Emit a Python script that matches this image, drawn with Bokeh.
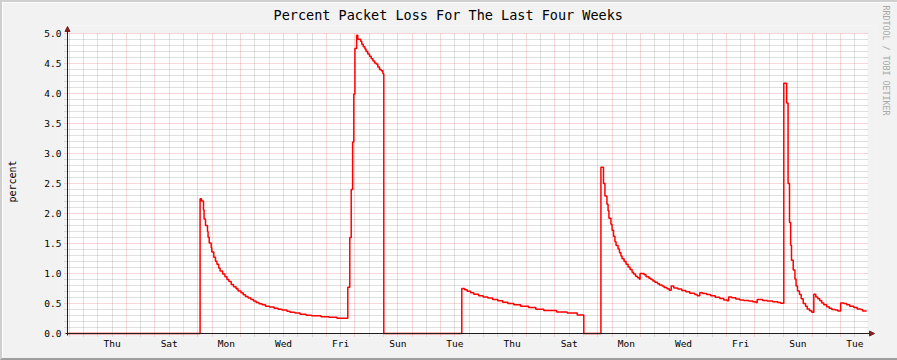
import numpy as np
from bokeh.plotting import figure
from bokeh.models import Range1d, FixedTicker, Arrow, NormalHead, NumeralTickFormatter, Title
from bokeh.embed import file_html
from bokeh.resources import INLINE

TITLE = "Percent Packet Loss For The Last Four Weeks"
Y_LABEL = "percent"
WATERMARK = "RRDTOOL / TOBI OETIKER"
DAY_LABELS = ["Thu", "Sat", "Mon", "Wed", "Fri", "Sun", "Tue",
              "Thu", "Sat", "Mon", "Wed", "Fri", "Sun", "Tue"]
WINDOW_DAYS = 28.0
FIRST_MIDNIGHT = 1.06   # days from window start to first Thursday 00:00

# time (days since window start) and packet loss (%) -- step series
T = [0.00, 4.64, 4.69, 4.76, 4.78, 4.83, 4.90, 4.92, 4.96, 5.03, 5.05, 5.12, 5.18, 5.23,
     5.29, 5.34, 5.43, 5.51, 5.58, 5.65, 5.73, 5.81, 5.90, 5.97, 6.07, 6.15, 6.23, 6.32,
     6.42, 6.51, 6.60, 6.70, 6.81, 6.93, 7.07, 7.23, 7.37, 7.51, 7.68, 7.79, 7.96, 8.14,
     8.35, 8.54, 8.87, 9.15, 9.43,
     9.81, 9.88, 9.93, 9.98, 10.02, 10.06, 10.12, 10.16, 10.26, 10.30, 10.35, 10.41, 10.45,
     10.51, 10.57, 10.63, 10.69, 10.75, 10.80, 10.86, 10.92, 10.98, 11.04, 11.07,
     13.80, 13.90, 13.99, 14.11, 14.22, 14.39, 14.55, 14.71, 14.88, 15.06, 15.23, 15.41,
     15.62, 15.86, 16.14, 16.39, 16.67, 17.12, 17.49, 17.84, 18.07,
     18.67, 18.76, 18.81, 18.88, 18.92, 18.95, 19.02, 19.06, 19.11, 19.16, 19.20, 19.27,
     19.32, 19.37, 19.41, 19.48, 19.55, 19.62, 19.69, 19.76, 19.81, 19.88, 19.95, 20.02,
     20.04, 20.18, 20.25, 20.35, 20.42, 20.49, 20.56, 20.65, 20.72, 20.81, 20.88, 20.98, 21.06,
     21.13, 21.22, 21.36, 21.50, 21.64, 21.78, 21.95, 22.04,
     22.13, 22.23, 22.37, 22.51, 22.67, 22.83, 22.97, 23.09,
     23.14, 23.25, 23.39, 23.53, 23.67, 23.84, 23.98, 24.09,
     24.14, 24.33, 24.49, 24.68, 24.86, 24.96,
     25.07, 25.17, 25.22, 25.27, 25.31, 25.34, 25.40, 25.46, 25.50, 25.55, 25.62, 25.68,
     25.75, 25.83, 25.89, 25.97, 26.05,
     26.12, 26.19, 26.26, 26.33, 26.40, 26.47, 26.57, 26.66, 26.75, 26.87, 26.96,
     27.06, 27.17, 27.27, 27.38, 27.52, 27.64, 27.76, 27.83, 27.97]
LOSS = [0.0, 2.245, 2.21, 2.06, 1.91, 1.80, 1.70, 1.605, 1.51, 1.43, 1.36, 1.27, 1.205, 1.155,
        1.09, 1.04, 0.99, 0.945, 0.90, 0.865, 0.815, 0.78, 0.745, 0.71, 0.68, 0.645, 0.615, 0.59,
        0.565, 0.54, 0.515, 0.495, 0.48, 0.455, 0.44, 0.42, 0.405, 0.39, 0.37, 0.355, 0.34, 0.32,
        0.305, 0.295, 0.28, 0.27, 0.255,
        0.77, 1.60, 2.40, 3.19, 3.99, 4.75, 4.97, 4.905, 4.87, 4.82, 4.78, 4.74, 4.70,
        4.66, 4.62, 4.58, 4.54, 4.51, 4.49, 4.44, 4.40, 4.38, 4.33, 0.0,
        0.75, 0.73, 0.705, 0.68, 0.655, 0.63, 0.61, 0.59, 0.565, 0.545, 0.52, 0.50,
        0.48, 0.455, 0.435, 0.405, 0.385, 0.36, 0.34, 0.31, 0.0,
        2.77, 2.50, 2.29, 2.155, 2.045, 1.92, 1.82, 1.72, 1.62, 1.53, 1.465, 1.41,
        1.345, 1.29, 1.245, 1.20, 1.155, 1.11, 1.065, 1.02, 0.99, 0.955, 0.93, 0.905,
        1.00, 0.98, 0.945, 0.92, 0.90, 0.875, 0.855, 0.83, 0.81, 0.79, 0.765, 0.745, 0.72,
        0.79, 0.76, 0.74, 0.715, 0.695, 0.67, 0.65, 0.63,
        0.68, 0.665, 0.65, 0.63, 0.605, 0.585, 0.56, 0.545,
        0.61, 0.595, 0.575, 0.56, 0.55, 0.54, 0.53, 0.515,
        0.565, 0.55, 0.54, 0.53, 0.515, 0.505,
        4.17, 3.84, 2.50, 1.85, 1.47, 1.22, 1.06, 0.91, 0.79, 0.71, 0.65, 0.58,
        0.50, 0.455, 0.41, 0.38, 0.355,
        0.655, 0.61, 0.58, 0.545, 0.51, 0.48, 0.445, 0.42, 0.40, 0.39, 0.375,
        0.51, 0.50, 0.48, 0.455, 0.435, 0.41, 0.40, 0.375, 0.375]

Y_MAX = 5.0

# RRDtool default colours
CANVAS = "#FFFFFF"
BACK = "#F2F2F2"
SHADE_A = "#CFCFCF"
SHADE_B = "#9E9E9E"
GRID = "#8F8F8F"
MGRID = "#DE4F4F"
ARROW = "#801F1F"
AXIS = "#1F1F1F"
LINE = "#FF0000"
FONT = "DejaVu Sans Mono"

# canvas is 800 x 300 px; the frame gets a small margin so the arrows fit
CW, CH = 800, 300
PX_X = WINDOW_DAYS / CW
PX_Y = Y_MAX / CH
PAD_L, PAD_B, PAD_R, PAD_T = 4, 4, 8, 8
EDGE = 2   # width of the bevel border drawn with CSS

x = np.array(T) - FIRST_MIDNIGHT
x0 = -FIRST_MIDNIGHT
x1 = WINDOW_DAYS - FIRST_MIDNIGHT

p = figure(frame_width=CW + PAD_L + PAD_R, frame_height=CH + PAD_B + PAD_T,
           output_backend="svg", toolbar_location=None,
           x_range=Range1d(x0 - PAD_L * PX_X, x1 + PAD_R * PX_X),
           y_range=Range1d(-PAD_B * PX_Y, Y_MAX + PAD_T * PX_Y), title=None,
           min_border_left=63 - EDGE, min_border_right=22 - EDGE,
           min_border_top=25 - EDGE, min_border_bottom=23 - EDGE)
p.background_fill_color = BACK
p.border_fill_color = BACK
p.outline_line_color = None
p.styles = {"border-top": f"{EDGE}px solid {SHADE_A}",
            "border-left": f"{EDGE}px solid {SHADE_A}",
            "border-bottom": f"{EDGE}px solid {SHADE_B}",
            "border-right": f"{EDGE}px solid {SHADE_B}"}

# white canvas
p.quad(left=[x0], right=[x1], bottom=[0], top=[Y_MAX], fill_color=CANVAS,
       line_color=None, level="image")

# ticks / grid
label_pos = [0.5 + 2 * k for k in range(len(DAY_LABELS))]
midnights = [float(d) for d in range(-1, 27)]
noons = [d + 0.5 for d in range(-1, 27) if d + 0.5 <= x1]
y_major = [k * 0.5 for k in range(11)]
y_minor = [k / 10 for k in range(51) if k % 5 != 0]

p.xaxis.ticker = FixedTicker(ticks=label_pos, minor_ticks=[])
p.xaxis.major_label_overrides = {pos: lab for pos, lab in zip(label_pos, DAY_LABELS)}
p.yaxis.ticker = FixedTicker(ticks=y_major, minor_ticks=[])
p.yaxis.formatter = NumeralTickFormatter(format="0.0")

for ax in (p.xaxis[0], p.yaxis[0]):
    ax.axis_line_color = None
    ax.major_tick_line_color = None
    ax.minor_tick_line_color = None
    ax.major_tick_in = 0
    ax.major_tick_out = 0
    ax.minor_tick_in = 0
    ax.minor_tick_out = 0
    ax.major_label_text_font = FONT
    ax.major_label_text_font_size = "9.5px"
    ax.major_label_text_color = "#000000"
p.xaxis.major_label_standoff = 0
p.yaxis.major_label_standoff = 2
p.yaxis.axis_label = Y_LABEL
p.yaxis.axis_label_text_font = FONT
p.yaxis.axis_label_text_font_size = "10px"
p.yaxis.axis_label_text_font_style = "normal"
p.yaxis.axis_label_text_color = "#000000"
p.yaxis.axis_label_standoff = 23

p.xgrid.ticker = FixedTicker(ticks=midnights, minor_ticks=noons)
p.ygrid.ticker = FixedTicker(ticks=y_major, minor_ticks=y_minor)
p.xgrid.cross_bounds = (-3 * PX_Y, Y_MAX)
p.ygrid.cross_bounds = (x0 - 3 * PX_X, x1)
for g in (p.xgrid[0], p.ygrid[0]):
    g.grid_line_color = MGRID
    g.grid_line_alpha = 0.45
    g.grid_line_dash = "1 1"
    g.grid_line_width = 1
    g.minor_grid_line_color = GRID
    g.minor_grid_line_alpha = 0.55
    g.minor_grid_line_dash = "1 1"
    g.minor_grid_line_width = 1

p.step(x, LOSS, mode="after", line_color=LINE, line_width=1.5)

# axis lines with arrow heads
p.add_layout(Arrow(end=NormalHead(size=5, fill_color=ARROW, line_color=ARROW),
                   x_start=x0 - 2 * PX_X, y_start=0, x_end=x1 + 7 * PX_X, y_end=0,
                   line_color=AXIS, line_width=1))
p.add_layout(Arrow(end=NormalHead(size=5, fill_color=ARROW, line_color=ARROW),
                   x_start=x0, y_start=-2 * PX_Y, x_end=x0, y_end=Y_MAX + 7 * PX_Y,
                   line_color=AXIS, line_width=1))

# title and watermark
p.add_layout(Title(text=TITLE, align="left", offset=210, standoff=5, text_font=FONT,
                   text_font_size="13.5px", text_font_style="normal",
                   text_color="#000000"), "above")
p.add_layout(Title(text=WATERMARK, align="left", offset=-20, standoff=10, text_font=FONT,
                   text_font_size="8.3px", text_font_style="normal",
                   text_color="#A8A8A8"), "right")

open("out.html", "w").write(file_html(p, INLINE))
